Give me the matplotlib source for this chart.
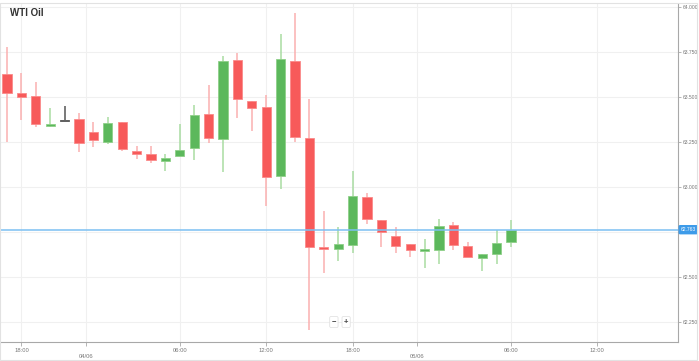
import matplotlib
matplotlib.use("Agg")
import matplotlib.pyplot as plt
import numpy as np
from matplotlib.patches import Rectangle

plt.rcParams["font.family"] = ["Liberation Sans", "DejaVu Sans"]

# ── Données : bougies horaires WTI ────────────────────────────────────────────
OPEN = [63.628, 63.522, 63.506, 63.339, 63.372, 63.378, 63.306, 63.250, 63.361,
        63.200, 63.183, 63.144, 63.172, 63.217, 63.406, 63.267, 63.706, 63.478,
        63.444, 63.061, 63.700, 63.272, 62.667, 62.656, 62.678, 62.944, 62.817,
        62.728, 62.683, 62.644, 62.650, 62.789, 62.672, 62.606, 62.628, 62.694]
HIGH = [63.778, 63.633, 63.583, 63.439, 63.450, 63.411, 63.361, 63.389, 63.361,
        63.228, 63.228, 63.183, 63.350, 63.456, 63.567, 63.728, 63.744, 63.478,
        63.511, 63.850, 63.967, 63.489, 62.867, 62.778, 63.089, 62.967, 62.817,
        62.778, 62.683, 62.711, 62.822, 62.806, 62.694, 62.628, 62.761, 62.817]
LOW = [63.250, 63.372, 63.333, 63.333, 63.372, 63.194, 63.222, 63.239, 63.200,
       63.156, 63.133, 63.089, 63.172, 63.150, 63.244, 63.083, 63.383, 63.311,
       62.894, 62.989, 63.250, 62.206, 62.522, 62.589, 62.633, 62.794, 62.667,
       62.633, 62.611, 62.550, 62.572, 62.650, 62.611, 62.533, 62.572, 62.667]
CLOSE = [63.522, 63.500, 63.350, 63.350, 63.372, 63.244, 63.261, 63.356, 63.211,
         63.183, 63.150, 63.161, 63.206, 63.400, 63.272, 63.700, 63.489, 63.439,
         63.056, 63.711, 63.278, 62.667, 62.656, 62.683, 62.950, 62.822, 62.750,
         62.672, 62.650, 62.656, 62.783, 62.678, 62.611, 62.628, 62.689, 62.763]

LAST_PRICE = 62.763

TIME_TICKS = [1, 12, 18, 24, 35, 41]
TIME_LABELS = ["18:00", "06:00", "12:00", "18:00", "06:00", "12:00"]
DATE_TICKS = [5.5, 28.5]
DATE_LABELS = ["04/06", "05/06"]
Y_TICKS = [62.25, 62.5, 62.75, 63.0, 63.25, 63.5, 63.75, 64.0]

# ── Couleurs ──────────────────────────────────────────────────────────────────
UP, UP_WICK, UP_EDGE = "#5cb85c", "#a9dca2", "#8fd088"
DOWN, DOWN_WICK, DOWN_EDGE = "#f75a5a", "#fbb0b0", "#fb8a8a"
FLAT = "#555555"
GRID = "#f0f0f0"
AXIS = "#a8a8a8"
TXT = "#777777"

fig = plt.figure(figsize=(6.99, 3.61), dpi=100)
ax = fig.add_axes([0.0, 19 / 361, 678 / 699, 338 / 361])

x = np.arange(len(OPEN))
o, h, l, c = map(np.array, (OPEN, HIGH, LOW, CLOSE))
colors, wicks, edges = [], [], []
for oi, ci in zip(o, c):
    if ci > oi:
        colors.append(UP); wicks.append(UP_WICK); edges.append(UP_EDGE)
    elif ci < oi:
        colors.append(DOWN); wicks.append(DOWN_WICK); edges.append(DOWN_EDGE)
    else:
        colors.append(FLAT); wicks.append(FLAT); edges.append(FLAT)

ax.vlines(x, l, h, colors=wicks, linewidth=1.1, zorder=2)
body = np.maximum(np.abs(c - o), 0.006)
bottom = np.where(np.abs(c - o) < 0.006, (o + c) / 2 - 0.003, np.minimum(o, c))
ax.bar(x, body, bottom=bottom, width=0.64, color=colors, edgecolor=edges,
       linewidth=0.6, zorder=3)

# Ligne du dernier prix (l'étiquette masque le tick 62.750)
ax.axhline(LAST_PRICE, color="#7cc0f2", linewidth=1.1, zorder=4)
ax.text(1.004, LAST_PRICE, f"{LAST_PRICE:.3f}", transform=ax.get_yaxis_transform(),
        ha="left", va="center", fontsize=3.6, color="white", zorder=6, clip_on=False,
        bbox=dict(boxstyle="round,pad=0.3,rounding_size=0.2", fc="#3d9be9", ec="#3d9be9"))

ax.set_xlim(-0.49, 46.6)
ax.set_ylim(62.139, 64.017)

# Axe Y à droite
ax.yaxis.tick_right()
ax.set_yticks(Y_TICKS)
ax.set_yticklabels(["" if abs(v - LAST_PRICE) < 0.05 else f"{v:.3f}" for v in Y_TICKS])
ax.tick_params(axis="y", labelsize=3.6, labelcolor=TXT, color=AXIS, length=2.5, width=0.6, pad=0.8)

# Axe X : heures + dates
ax.set_xticks(TIME_TICKS)
ax.set_xticklabels(TIME_LABELS)
ax.set_xticks(DATE_TICKS, minor=True)
ax.set_xticklabels(DATE_LABELS, minor=True)
ax.tick_params(axis="x", which="major", labelsize=4.2, labelcolor=TXT, color=AXIS,
               length=3, width=0.6, pad=1.5)
ax.tick_params(axis="x", which="minor", labelsize=4.2, labelcolor=TXT, color=AXIS,
               length=3, width=0.6, pad=6)

for xv in TIME_TICKS + DATE_TICKS:
    ax.axvline(xv, color=GRID, linewidth=0.8, zorder=0)
for yv in Y_TICKS:
    ax.axhline(yv, color=GRID, linewidth=0.8, zorder=0)

for side in ("top", "left"):
    ax.spines[side].set_visible(False)
for side in ("right", "bottom"):
    ax.spines[side].set_color(AXIS)
    ax.spines[side].set_linewidth(0.8)

# Boutons de zoom
for xb, s in ((22.7, "\u2212"), (23.55, "+")):
    ax.text(xb, 62.25, s, ha="center", va="center", fontsize=5.5, fontweight="bold",
            color="#444444", zorder=6,
            bbox=dict(boxstyle="round,pad=0.25,rounding_size=0.15", fc="white", ec="#dddddd", lw=0.5))

fig.text(10 / 699, 1 - 13 / 361, "WTI Oil", fontsize=7, fontweight="bold",
         color="#333333", ha="left", va="center")

# Cadre extérieur
fig.patches.append(Rectangle((0.0, 1.5 / 361), 697 / 699, 357 / 361, transform=fig.transFigure,
                             fill=False, edgecolor="#e2e2e2", linewidth=0.8))

fig.savefig("out.png", dpi=100)
